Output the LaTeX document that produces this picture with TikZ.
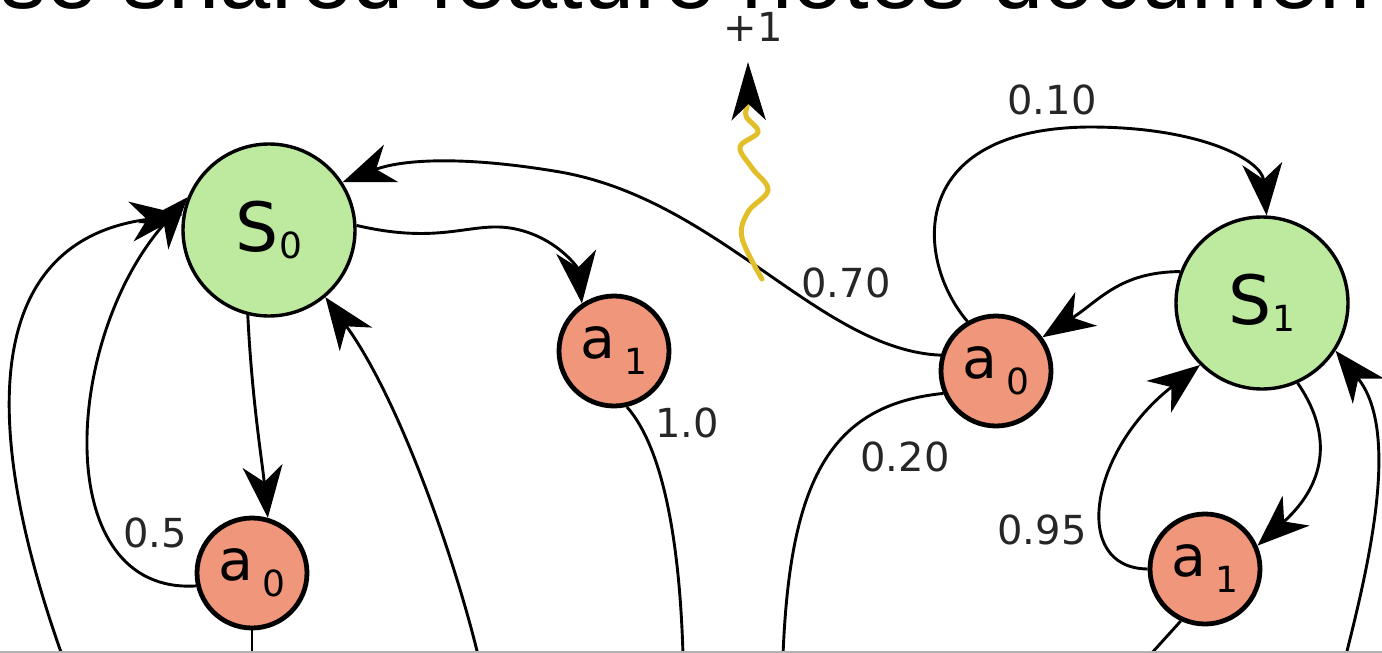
\documentclass[tikz,border=0pt]{standalone}
\usepackage{fontspec}
\setmainfont{DejaVu Sans}
\newfontfamily\bannerfont{Liberation Sans}
\usetikzlibrary{arrows.meta}
\definecolor{stategreen}{RGB}{190,234,160}
\definecolor{actsalmon}{RGB}{240,150,122}
\definecolor{rewardgold}{RGB}{226,190,40}
\newcommand{\statetext}[2]{\fontsize{68}{68}\selectfont #1\raisebox{-7pt}{\fontsize{36}{36}\selectfont #2}}
\newcommand{\acttext}[2]{\fontsize{57}{57}\selectfont #1\hspace{9pt}\raisebox{-16pt}{\fontsize{36}{36}\selectfont #2}}
\begin{document}
\begin{tikzpicture}[x=1pt,y=-1pt,
  state/.style={circle,draw=black,line width=3.4pt,fill=stategreen,minimum size=172pt,inner sep=0pt},
  act/.style={circle,draw=black,line width=4.8pt,fill=actsalmon,minimum size=110pt,inner sep=0pt},
  edge/.style={draw=black,line width=2.9pt,-{Stealth[length=52pt,width=40pt,inset=16pt]}},
  plain/.style={draw=black,line width=2.9pt},
  prob/.style={font=\fontsize{40}{40}\selectfont,text=black!85,inner sep=0pt},
]
\useasboundingbox (0,0) rectangle (1382,653);
\clip (0,0) rectangle (1382,653);
\fill[white] (0,0) rectangle (1382,653);

% heading line, cut by the top edge
\node[anchor=base west,inner sep=0pt,font=\bannerfont\fontsize{92}{92}\selectfont] (banner) at (0,9) {se shared feature notes documen};

% states and actions
\node[state] (S0) at (269,230) {\statetext{S}{0}};
\node[state] (S1) at (1262,303) {\statetext{S}{1}};
\node[act] (a1m) at (614,351) {\acttext{a}{1}};
\node[act] (a0r) at (996,371) {\acttext{a}{0}};
\node[act] (a0l) at (252,573) {\acttext{a}{0}};
\node[act] (a1r) at (1205,569) {\acttext{a}{1}};

% loose ends running off the bottom edge
\coordinate (inL) at (62,655);
\coordinate (inM) at (478,655);
\coordinate (outA) at (683,655);
\coordinate (outB) at (783,655);
\coordinate (inR) at (1346,655);
\coordinate (stubL) at (252,655);
\coordinate (stubR) at (1150,655);
\coordinate (reward) at (762,279);
\coordinate (rewardtip) at (748,62);

% transitions
\draw[edge] (S0.3) .. controls (440,245) and (470,222) .. (510,228) .. controls (555,235) and (578,268) .. (a1m.124);
\draw[edge] (S0.256) .. controls (252,400) and (262,460) .. (a0l.74);
\draw[edge] (a0l.193) .. controls (50,595) and (62,340) .. (S0.158);
\draw[edge] (inL) .. controls (-25,410) and (-10,240) .. (S0.170);
\draw[edge] (inM) .. controls (455,560) and (400,400) .. (S0.-50);
\draw[plain] (a1m.283) .. controls (665,450) and (680,550) .. (outA);
\draw[edge] (a0r.164) .. controls (820,350) and (720,200) .. (560,172) .. controls (460,155) and (400,160) .. (S0.33);
\draw[edge] (S1.159) .. controls (1120,272) and (1100,300) .. (a0r.36);
\draw[edge] (a0r.120) .. controls (915,260) and (905,128) .. (1090,127) .. controls (1200,127) and (1262,160) .. (S1.87);
\draw[plain] (a0r.203) .. controls (830,405) and (790,480) .. (outB);
\draw[edge] (S1.294) .. controls (1330,430) and (1330,480) .. (a1r.24);
\draw[edge] (a1r.180) .. controls (1070,568) and (1090,450) .. (S1.225);
\draw[edge] (inR) .. controls (1370,560) and (1400,430) .. (S1.-33);
\draw[plain] (a0l.south) -- (stubL);
\draw[plain] (a1r.245) -- (stubR);

% reward squiggle
\draw[rewardgold,line width=5pt,line cap=round,-{Stealth[black,length=58pt,width=34pt,inset=16pt]}]
  plot[smooth,tension=0.6] coordinates {(reward) (742,238) (748,212) (768,190) (752,168) (740,147) (758,132) (746,116) (748,100) (rewardtip)};

% probabilities and reward
\node[prob] (pr) at (753,27) {+1};
\node[prob] (p10) at (1052,100) {0.10};
\node[prob] (p70) at (846,283) {0.70};
\node[prob] (p1) at (687,423) {1.0};
\node[prob] (p20) at (905,457) {0.20};
\node[prob] (p5) at (155,533) {0.5};
\node[prob] (p95) at (1042,530) {0.95};

\draw[gray!60,line width=1.5pt] (0,652) -- (1382,652);
\end{tikzpicture}
\end{document}
